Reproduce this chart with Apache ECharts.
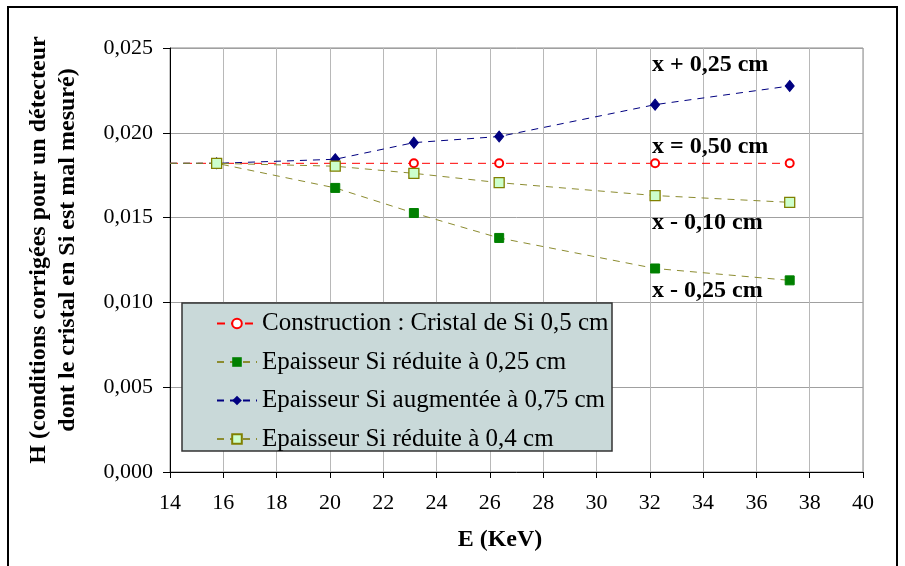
<!DOCTYPE html>
<html>
<head>
<meta charset="utf-8">
<script src="https://cdn.jsdelivr.net/npm/echarts@6/dist/echarts.min.js"></script>
<style>html,body{margin:0;padding:0;background:#fff}#c{width:905px;height:566px}</style>
</head>
<body>
<div id="c"></div>
<script>
// Energy (KeV)
const E = [14, 15.75, 20.2, 23.15, 26.35, 32.2, 37.25];
const seriesNames = [
  'Construction : Cristal de Si 0,5 cm',
  'Epaisseur Si réduite à 0,25 cm',
  'Epaisseur Si augmentée à 0,75 cm',
  'Epaisseur Si réduite à 0,4 cm'
];
const construction = [0.0182, 0.0182, 0.0182, 0.0182, 0.0182, 0.0182, 0.0182];
const reduite025  = [0.0182, 0.0182, 0.01675, 0.01527, 0.0138, 0.0120, 0.0113];
const augmentee075 = [0.0182, 0.0182, 0.01844, 0.01942, 0.01978, 0.02166, 0.02276];
const reduite04   = [0.0182, 0.0182, 0.01803, 0.01761, 0.01706, 0.0163, 0.0159];
const curveLabels = ['x + 0,25 cm', 'x = 0,50 cm', 'x - 0,10 cm', 'x - 0,25 cm'];
const yTitle = 'H (conditions corrigées pour un détecteur\ndont le cristal en Si est mal mesuré)';
const xTitle = 'E (KeV)';

const FONT = '"Liberation Serif", "Times New Roman", serif';

function pts(vals) {
  return E.map((e, i) => i === 0 ? { value: [e, vals[i]], symbol: 'none' } : [e, vals[i]]);
}

const chart = echarts.init(document.getElementById('c'), null, { renderer: 'canvas' });
const option = {
  animation: false,
  backgroundColor: '#fff',
  grid: { left: 170, right: 42, top: 48, bottom: 94, show: true, borderColor: '#888', borderWidth: 1, containLabel: false, outerBoundsMode: 'none' },
  xAxis: {
    type: 'value', min: 14, max: 40, interval: 2,
    axisLine: { show: true, onZero: false, lineStyle: { color: '#000', width: 1 } },
    axisTick: { show: true, length: 6, lineStyle: { color: '#000' } },
    axisLabel: { fontFamily: FONT, fontSize: 22, color: '#000', margin: 20 },
    splitLine: { show: true, lineStyle: { color: '#b8b8b8', width: 1 } }
  },
  yAxis: {
    type: 'value', min: 0, max: 0.025, interval: 0.005,
    axisLine: { show: true, lineStyle: { color: '#000', width: 1 } },
    axisTick: { show: true, length: 7, lineStyle: { color: '#000' } },
    axisLabel: { fontFamily: FONT, fontSize: 22, color: '#000', margin: 17,
      formatter: v => v.toFixed(3).replace('.', ',') },
    splitLine: { show: true, lineStyle: { color: '#a0a0a0', width: 1 } }
  },
  legend: {
    orient: 'vertical', left: 216, top: 311, padding: 0, itemGap: 13.5,
    itemWidth: 40, itemHeight: 12,
    textStyle: { fontFamily: FONT, fontSize: 25, lineHeight: 24, color: '#000' },
    data: seriesNames
  },
  series: [
    { name: seriesNames[0], type: 'line', data: pts(construction),
      symbol: 'emptyCircle', symbolSize: 8,
      lineStyle: { color: '#ff0000', width: 1, type: [8, 6] },
      itemStyle: { color: '#ff0000', borderColor: '#ff0000', borderWidth: 1.3 } },
    { name: seriesNames[1], type: 'line', data: pts(reduite025),
      symbol: 'rect', symbolSize: 9,
      lineStyle: { color: '#8c8c30', width: 1, type: [7, 6] },
      itemStyle: { color: '#008000', borderColor: '#008000' } },
    { name: seriesNames[2], type: 'line', data: pts(augmentee075),
      symbol: 'diamond', symbolSize: [9, 11],
      lineStyle: { color: '#000080', width: 1, type: [7, 6] },
      itemStyle: { color: '#000080', borderColor: '#000080' } },
    { name: seriesNames[3], type: 'line', data: pts(reduite04),
      symbol: 'rect', symbolSize: 10,
      lineStyle: { color: '#8c8c30', width: 1, type: [7, 6] },
      itemStyle: { color: '#ccffcc', borderColor: '#808000', borderWidth: 1.3 } }
  ],
  graphic: [
    { type: 'rect', z: 100, silent: true, shape: { x: 8, y: 7, width: 889, height: 575 },
      style: { fill: 'none', stroke: '#000', lineWidth: 2 } },
    { type: 'rect', z: 3, shape: { x: 182, y: 303, width: 430, height: 148 },
      style: { fill: '#c9d9d9', stroke: '#333', lineWidth: 1.5 } },
    { type: 'text', z: 5, x: 652, y: 65, style: { text: curveLabels[0], font: 'bold 24px ' + FONT, fill: '#000', verticalAlign: 'middle' } },
    { type: 'text', z: 5, x: 652, y: 147, style: { text: curveLabels[1], font: 'bold 24px ' + FONT, fill: '#000', verticalAlign: 'middle' } },
    { type: 'text', z: 5, x: 652, y: 223, style: { text: curveLabels[2], font: 'bold 24px ' + FONT, fill: '#000', verticalAlign: 'middle' } },
    { type: 'text', z: 5, x: 652, y: 291, style: { text: curveLabels[3], font: 'bold 24px ' + FONT, fill: '#000', verticalAlign: 'middle' } },
    { type: 'text', z: 5, x: 500, y: 540, style: { text: xTitle, font: 'bold 24px ' + FONT, fill: '#000', align: 'center', verticalAlign: 'middle' } },
    { type: 'text', z: 5, x: 53, y: 250, rotation: Math.PI / 2,
      style: { text: yTitle, font: 'bold 24px ' + FONT, lineHeight: 29, fill: '#000', align: 'center', verticalAlign: 'middle' } }
  ]
};
chart.setOption(option);
</script>
</body>
</html>
